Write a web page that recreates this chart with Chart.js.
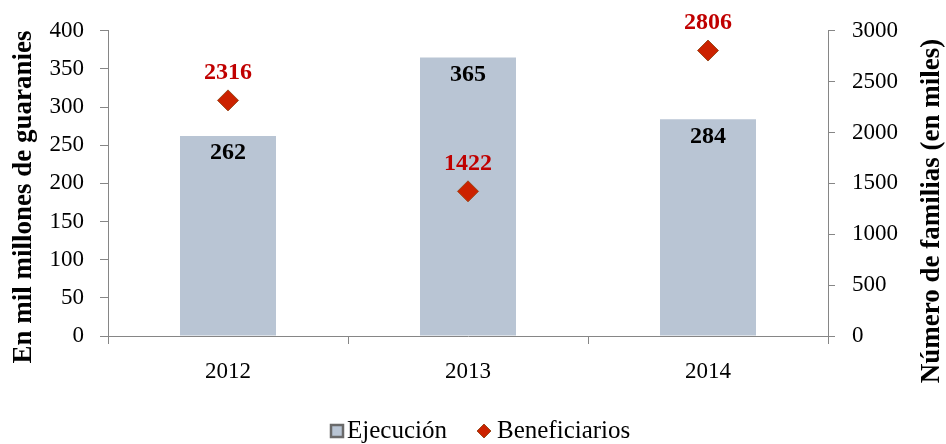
<!DOCTYPE html>
<html>
<head>
<meta charset="utf-8">
<script src="https://cdn.jsdelivr.net/npm/chart.js@4.4.1/dist/chart.umd.min.js"></script>
<style>
    html, body { margin: 0; padding: 0; background: #ffffff; }
    #wrap { width: 946px; height: 444px; }
</style>
</head>
<body>
<div id="wrap"><canvas id="gastoChart" width="946" height="444"></canvas></div>
<script>
const years = ['2012', '2013', '2014']
const ejecucion = [262, 365, 284]
const beneficiarios = [2316, 1422, 2806]
const leftTicks = [0, 50, 100, 150, 200, 250, 300, 350, 400]
const rightTicks = [0, 500, 1000, 1500, 2000, 2500, 3000]

const FONT = "'Liberation Serif', 'Times New Roman', serif"
const AXIS_GREY = '#868686'
const BAR_COLOR = '#B9C5D4'
const DIAMOND_COLOR = '#CC2200'

// etiquetas de valores, titulos de ejes y leyenda
const labelsPlugin = {
    id: 'valueLabels',
    afterDatasetsDraw(chart) {
        const ctx = chart.ctx
        ctx.save()
        ctx.textAlign = 'center'
        ctx.textBaseline = 'middle'
        ctx.font = 'bold 24px ' + FONT
        chart.getDatasetMeta(0).data.forEach((el, i) => {
            ctx.fillStyle = '#000000'
            ctx.fillText(ejecucion[i], el.x, el.y + 17)
        })
        chart.getDatasetMeta(1).data.forEach((el, i) => {
            ctx.fillStyle = '#C00000'
            ctx.fillText(beneficiarios[i], el.x, el.y - 28)
        })
        ctx.restore()

        const title = (text, x, y) => {
            ctx.save()
            ctx.fillStyle = '#000000'
            ctx.textAlign = 'center'
            ctx.textBaseline = 'middle'
            ctx.font = 'bold 27px ' + FONT
            ctx.translate(x, y)
            ctx.rotate(-Math.PI / 2)
            ctx.fillText(text, 0, 0)
            ctx.restore()
        }
        title('En mil millones de guaranies', 24, 197)
        title('Número de familias (en miles)', 932, 211)

        // leyenda
        ctx.save()
        ctx.textBaseline = 'middle'
        ctx.textAlign = 'left'
        ctx.font = '25px ' + FONT
        const ly = 431
        ctx.fillStyle = BAR_COLOR
        ctx.strokeStyle = '#6A6A6A'
        ctx.lineWidth = 2.5
        ctx.fillRect(331, ly - 6, 12, 12)
        ctx.strokeRect(331, ly - 6, 12, 12)
        ctx.fillStyle = '#000000'
        ctx.fillText('Ejecución', 347, ly)
        ctx.fillStyle = DIAMOND_COLOR
        ctx.strokeStyle = '#9A4A1E'
        ctx.lineWidth = 1
        ctx.beginPath()
        ctx.moveTo(484, ly - 7)
        ctx.lineTo(491, ly)
        ctx.lineTo(484, ly + 7)
        ctx.lineTo(477, ly)
        ctx.closePath()
        ctx.fill()
        ctx.stroke()
        ctx.fillStyle = '#000000'
        ctx.fillText('Beneficiarios', 497, ly)
        ctx.restore()
    }
}

const ctx = document.getElementById('gastoChart').getContext('2d')
const gastoChart = new Chart(ctx, {
    data: {
        labels: years,
        datasets: [{
            type: 'bar',
            label: 'Ejecución',
            data: ejecucion,
            backgroundColor: BAR_COLOR,
            borderWidth: 0,
            barPercentage: 0.4,
            categoryPercentage: 1,
            yAxisID: 'y',
            order: 2
        }, {
            type: 'line',
            label: 'Beneficiarios',
            data: beneficiarios,
            showLine: false,
            pointStyle: 'rectRot',
            pointRadius: 10.5,
            pointHoverRadius: 10.5,
            pointBackgroundColor: DIAMOND_COLOR,
            pointBorderColor: '#9A4A1E',
            pointBorderWidth: 1,
            yAxisID: 'y2',
            order: 1
        }]
    },
    options: {
        responsive: false,
        animation: false,
        layout: { padding: { top: 25, left: 0, right: 0, bottom: 0 } },
        plugins: {
            tooltip: { enabled: false },
            legend: { display: false }
        },
        scales: {
            x: {
                offset: true,
                grid: {
                    offset: true,
                    drawOnChartArea: false,
                    tickLength: 8,
                    color: AXIS_GREY
                },
                border: { color: AXIS_GREY },
                ticks: {
                    color: '#000000',
                    padding: 14,
                    font: { family: FONT, size: 23 }
                },
                afterFit(scale) { scale.height = 444 - 336 }
            },
            y: {
                position: 'left',
                min: 0,
                max: 400,
                afterBuildTicks(scale) {
                    scale.ticks = leftTicks.map(v => ({ value: v }))
                },
                grid: {
                    drawOnChartArea: false,
                    tickLength: 8,
                    color: AXIS_GREY
                },
                border: { color: AXIS_GREY },
                ticks: {
                    color: '#000000',
                    padding: 16,
                    font: { family: FONT, size: 23 }
                },
                afterFit(scale) { scale.width = 108 }
            },
            y2: {
                position: 'right',
                min: 0,
                max: 3000,
                afterBuildTicks(scale) {
                    scale.ticks = rightTicks.map(v => ({ value: v }))
                },
                grid: {
                    drawOnChartArea: false,
                    tickLength: 7,
                    color: AXIS_GREY
                },
                border: { color: AXIS_GREY },
                ticks: {
                    color: '#000000',
                    padding: 17,
                    font: { family: FONT, size: 23 },
                    callback: v => String(v)
                },
                afterFit(scale) { scale.width = 946 - 828 }
            }
        }
    },
    plugins: [labelsPlugin]
})
</script>
</body>
</html>
